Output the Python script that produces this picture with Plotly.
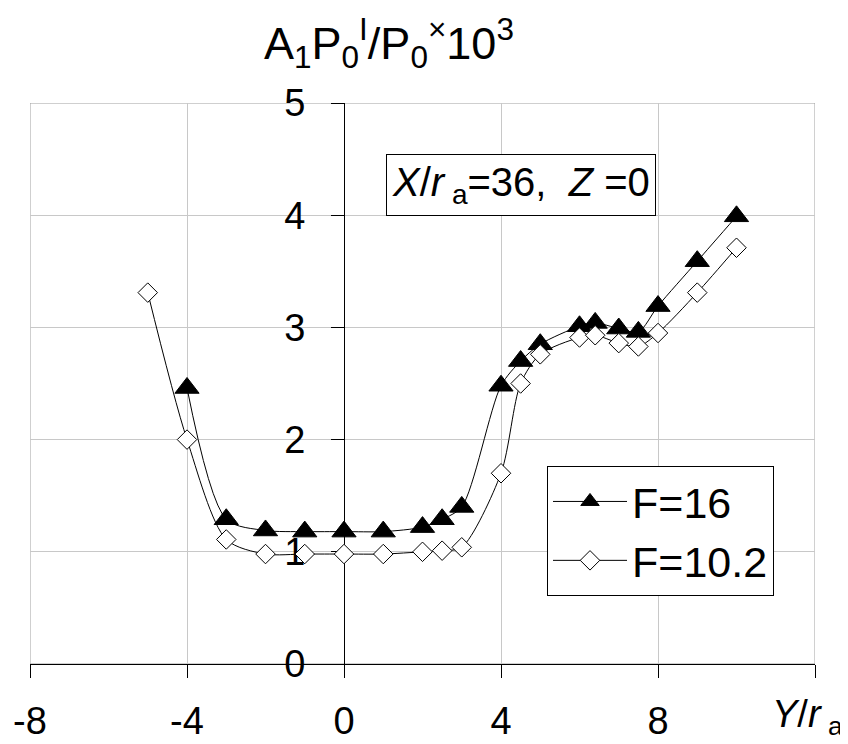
import plotly.graph_objects as go

# ---- data ----
y_f16 = [-4, -3, -2, -1, 0, 1, 2, 2.5, 3, 4, 4.5, 5, 6, 6.4, 7, 7.5, 8, 9, 10]
v_f16 = [2.46, 1.29, 1.19, 1.18, 1.18, 1.18, 1.22, 1.29, 1.40, 2.48, 2.70, 2.85, 3.01, 3.04, 2.99, 2.96, 3.19, 3.59, 3.99]

y_f10 = [-5, -4, -3, -2, -1, 0, 1, 2, 2.5, 3, 4, 4.5, 5, 6, 6.4, 7, 7.5, 8, 9, 10]
v_f10 = [3.31, 2.0, 1.11, 0.98, 0.98, 0.98, 0.98, 1.0, 1.01, 1.04, 1.70, 2.50, 2.76, 2.91, 2.93, 2.86, 2.83, 2.95, 3.31, 3.71]

x_ticks = [-8, -4, 0, 4, 8, 12]
x_ticktext = ["-8", "-4", "0", "4", "8", ""]
y_ticks = [0, 1, 2, 3, 4, 5]

FONT = "Liberation Sans, Arial, sans-serif"

fig = go.Figure()
fig.add_trace(go.Scatter(
    x=y_f16, y=v_f16, name="F=16", mode="lines+markers",
    line=dict(color="black", width=1, shape="spline", smoothing=0.8),
    marker=dict(symbol="triangle-up", size=21, color="black",
                line=dict(color="black", width=1)),
))
fig.add_trace(go.Scatter(
    x=y_f10, y=v_f10, name="F=10.2", mode="lines+markers",
    line=dict(color="black", width=1, shape="spline", smoothing=0.8),
    marker=dict(symbol="diamond", size=15, color="white",
                line=dict(color="black", width=1)),
))

# page has an 8px body margin: figure is drawn offset by (8, 8)
OFF = 8
W, H = 840, 736
L, T = 30 - OFF, 103 - OFF
R = W - (815 - OFF)
B = H - (664 - OFF)
plot_w = W - L - R
plot_h = H - T - B

def px_x(p):
    return (p - OFF - L) / plot_w

def px_y(p):
    return ((664 - OFF) - (p - OFF)) / plot_h

fig.update_layout(
    width=W, height=H,
    margin=dict(l=L, r=R, t=T, b=B, autoexpand=False),
    paper_bgcolor="white", plot_bgcolor="white",
    font=dict(family=FONT, size=38, color="black"),
    showlegend=True,
    legend=dict(
        x=px_x(547), y=px_y(466),
        xanchor="left", yanchor="top",
        bgcolor="white", bordercolor="black", borderwidth=1,
        font=dict(family=FONT, size=43, color="black"),
        itemwidth=74, tracegroupgap=0,
    ),
    xaxis=dict(
        range=[-8, 12], tickvals=x_ticks, ticktext=x_ticktext,
        showgrid=True, gridcolor="#c8c8c8", gridwidth=1,
        zeroline=False, showline=True, linecolor="black", linewidth=1,
        ticks="outside", ticklen=13, tickcolor="black",
        ticklabelstandoff=10, automargin=False,
        tickfont=dict(family=FONT, size=38),
    ),
    yaxis=dict(
        range=[0, 5], tickvals=y_ticks,
        showgrid=True, gridcolor="#c8c8c8", gridwidth=1,
        zeroline=False, showline=True, linecolor="black", linewidth=1,
        ticks="outside", ticklen=13, tickcolor="black",
        anchor="free", position=8 / 20, automargin=False,
        layer="below traces",
        ticklabelstandoff=18,
        tickfont=dict(family=FONT, size=38),
    ),
    shapes=[dict(type="rect", xref="x", yref="y", x0=-8, x1=12, y0=0, y1=5,
                 line=dict(color="#a0a0a0", width=1), layer="below")],
    annotations=[
        dict(text="A<sub>1</sub>P<sub>0</sub><sup>I</sup>/P<sub>0</sub><sup>×</sup>10<sup>3</sup>",
             xref="paper", yref="paper", x=px_x(262), y=1.0,
             xanchor="left", yanchor="bottom", yshift=26, showarrow=False,
             font=dict(family=FONT, size=45)),
        dict(text="<i>X</i>/<i>r</i><sub> a</sub>=36,  <i>Z</i> =0",
             xref="x", yref="y", x=4.5, y=4.27, xanchor="center", yanchor="middle",
             showarrow=False, bordercolor="black", borderwidth=1, borderpad=5,
             bgcolor="white", font=dict(family=FONT, size=40)),
        dict(text="<i>Y</i>/<i>r</i><sub> a</sub>",
             xref="paper", yref="paper", x=px_x(845), y=0,
             xanchor="right", yanchor="top", yshift=-27, showarrow=False,
             font=dict(family=FONT, size=38)),
    ],
)

fig.write_html("out.html")
